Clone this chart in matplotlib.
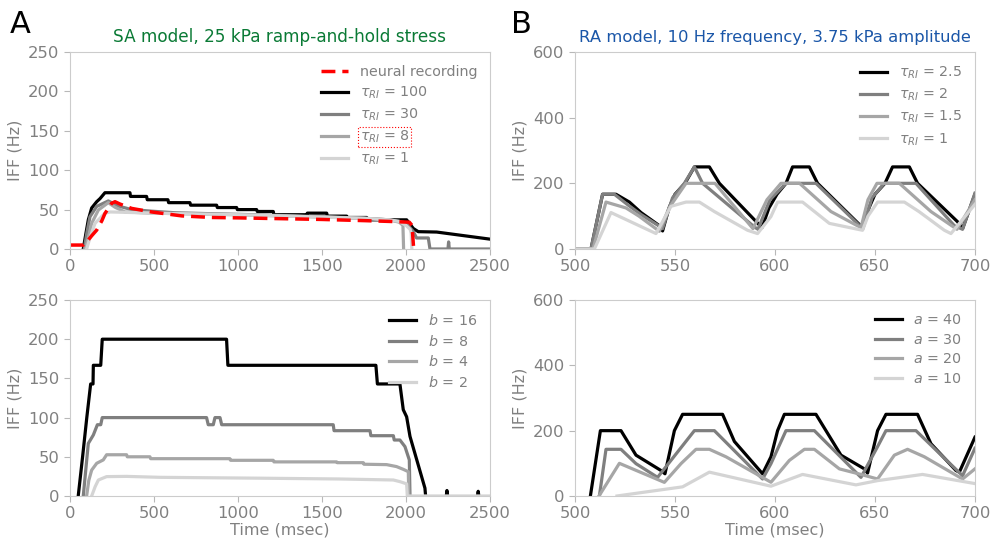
import numpy as np
import matplotlib
matplotlib.use('Agg')
from matplotlib import pyplot as plt

# ---- SA model, ramp-and-hold (top left) ----
t_rec = [0, 79, 99, 130, 159, 190, 208, 248, 268, 298, 367, 486, 665, 843, 1000, 1250, 1500, 1750, 1900, 1960, 2020, 2036, 2046]
v_rec = [5, 5, 9, 17, 24, 36, 45, 58, 60, 57, 51.5, 47, 42, 40, 39.5, 38.5, 37.5, 36, 35, 34.5, 34, 30, 0]

t_tau100 = [79, 95, 109, 129, 159, 179, 208, 357, 360, 456, 460, 583, 587, 714, 718, 873, 877, 992, 996, 1111, 1115,
            1210, 1214, 1409, 1413, 1528, 1532, 1647, 1651, 1766, 1770, 2004, 2044, 2073, 2183, 2500]
v_tau100 = [0, 20, 37, 52, 60, 64, 71.4, 71.4, 66.7, 66.7, 62.5, 62.5, 58.8, 58.8, 55.6, 55.6, 52.6, 52.6, 50, 50, 47.6,
            47.6, 43.5, 43.5, 45.5, 45.5, 41.7, 41.7, 40, 40, 37, 37, 26, 22, 21.5, 12.5]

t_tau30 = [85, 100, 119, 159, 228, 288, 367, 486, 625, 800, 1000, 1250, 1500, 1750, 1900, 1960, 2000, 2044, 2063,
           2133, 2143, 2250, 2254, 2258, 2500]
v_tau30 = [0, 20, 41, 54, 61, 54.5, 50, 48, 46, 45, 44, 42.5, 41, 39, 37, 35, 33, 22, 14, 14, 0, 0, 9, 0, 0]

t_tau8 = [90, 110, 129, 169, 228, 268, 327, 486, 843, 1000, 1250, 1500, 1750, 1900, 1960, 1982, 1986]
v_tau8 = [0, 15, 32.6, 49.5, 58.8, 53, 47, 45.5, 44, 43.5, 42, 40.5, 39, 37, 34, 30, 0]

t_tau1 = [99, 120, 149, 208, 240, 330, 500, 843, 1000, 1250, 1500, 1750, 1900, 1960, 2000, 2025, 2031, 2035]
v_tau1 = [0, 15, 32.6, 45.5, 47, 46.5, 45.5, 44, 43.5, 42, 40.5, 39, 37, 35, 30, 25, 20, 0]

# ---- SA model, varying b (bottom left) ----
t_b16 = [49, 75, 100, 123, 137, 139, 183, 192, 932, 940, 1821, 1830, 1964, 1984, 2004, 2024, 2113, 2117,
         np.nan, 2240, 2244, 2248, np.nan, 2426, 2430, 2434]
v_b16 = [0, 50, 100, 142.9, 142.9, 166.7, 166.7, 200, 200, 166.7, 166.7, 142.9, 142.9, 110, 101, 76, 10, 0,
         np.nan, 0, 7, 0, np.nan, 0, 6, 0]

t_b8 = [79, 109, 139, 163, 183, 192, 813, 823, 853, 863, 893, 903, 1567, 1572, 1786, 1791, 1925, 1930, 1964, 1994,
        2020, 2024]
v_b8 = [0, 67, 77.8, 90.9, 90.9, 100, 100, 90.9, 90.9, 100, 100, 90.9, 90.9, 83.3, 83.3, 76.9, 76.9, 71.4, 71.4,
        63, 46, 0]

t_b4 = [99, 112, 129, 159, 198, 218, 337, 341, 476, 480, 952, 956, 1210, 1214, 1587, 1591, 1746, 1750, 1885, 1944,
        1984, 2014, 2017]
v_b4 = [0, 20, 33, 41.7, 46, 52.6, 52.6, 50, 50, 47.6, 47.6, 45.5, 45.5, 43.5, 43.5, 42.5, 42.5, 40.5, 40, 37.5,
        34, 31, 0]

t_b2 = [129, 150, 169, 218, 337, 536, 1131, 1600, 1925, 1964, 2004, 2008, 2500]
v_b2 = [0, 12, 20.4, 24.7, 25, 23.8, 22.7, 21.7, 20.4, 18.3, 15.5, 0, 0]

# ---- RA model, varying tau_RI (top right) ----
t_ra25 = [500, 508, 513.8, 520.5, 527.2, 533, 542.2, 543.8, 547, 550, 555, 559.7, 567.2, 572.2, 593.5, 597, 601,
          605.5, 608.8, 617.2, 621.3, 643.8, 647, 650, 655, 658.8, 667.2, 671.3, 691.3, 693.8, 700]
v_ra25 = [0, 0, 166.7, 166.7, 142.9, 111, 71, 55, 125, 166.7, 200, 250, 250, 200, 65, 125, 166.7,
          200, 250, 250, 200, 65, 125, 166.7, 200, 250, 250, 200, 83, 62, 166.7]

t_ra2 = [500, 508, 513.8, 519.7, 526.3, 533, 541.3, 543.8, 548.8, 554.7, 559.7, 563.8, 589.7, 591.5, 597.5, 605.5,
         620.5, 642.5, 644, 648.5, 654.7, 670.5, 689.7, 693.8, 700]
v_ra2 = [0, 0, 166.7, 166.7, 135, 105, 73, 62, 156, 200, 250, 200, 67, 60, 150, 200,
         200, 70, 62, 156, 200, 200, 71, 60, 170]

t_ra15 = [500, 509, 515.5, 525.5, 532, 542.2, 547, 555.5, 570, 589, 596, 603, 612.3, 628, 643, 646.5, 651, 662.2,
          678, 691, 700]
v_ra15 = [0, 0, 142.9, 125, 100, 54, 125, 200, 200, 62, 150, 200, 200, 114, 65, 150, 200, 200,
          114, 60, 150]

t_ra1 = [500, 509.7, 518, 540.5, 548, 555.5, 562.2, 569.7, 586.3, 591.3, 598, 601.3, 613.8, 627.2, 643.8, 646.5,
         651.3, 664.7, 672, 684.7, 688, 700]
v_ra1 = [0, 0, 111, 47, 130, 142.9, 142.9, 114, 57, 47, 99, 142.9, 142.9, 78, 57, 100,
         142.9, 142.9, 114, 57, 47, 136]

# ---- RA model, varying a (bottom right) ----
t_a40 = [507.7, 512.7, 523, 530.5, 543, 545, 549.7, 553.8, 573.8, 579.7, 593.8, 598, 601.3, 604.7, 620.5, 633,
         644.7, 646.3, 651.3, 655.5, 671.3, 678, 690.5, 692.2, 700]
v_a40 = [0, 200, 200, 125, 78, 68, 200, 250, 250, 167, 68, 120, 200, 250, 250, 125,
         83, 70, 200, 250, 250, 160, 78, 73, 180]

t_a30 = [512.2, 515.5, 523, 530.5, 541.3, 548, 559.7, 569.7, 593.8, 598, 605.5, 619.7, 643, 651.3, 655.5, 670.5,
         693.8, 700]
v_a30 = [0, 142.9, 142.9, 99, 57, 109, 200, 200, 52, 99, 200, 200, 57, 151, 200, 200, 62, 146]

t_a20 = [512, 522.2, 544.7, 553, 560.5, 567.2, 575.5, 598, 607.2, 614.7, 619.7, 632.2, 643, 651.3, 659.7, 666.3,
         674.7, 693.8, 700]
v_a20 = [0, 100, 41.7, 99, 142.9, 142.9, 120, 42, 109, 142.9, 142.9, 83, 66, 52, 125, 142.9, 120, 52, 83]

t_a10 = [521, 553.8, 567.2, 598, 613.8, 640.5, 651.3, 673.8, 700]
v_a10 = [0, 28, 73, 30, 66, 34, 47, 66, 38]

greys = ['#000000', '#7f7f7f', '#a6a6a6', '#d4d4d4']
lw = 2.3


def style(ax, xlim, ylim, xticks, yticks):
    for s in ax.spines.values():
        s.set_color('#cccccc')
    ax.set_xlim(xlim)
    ax.set_ylim(ylim)
    ax.set_xticks(xticks)
    ax.set_yticks(yticks)
    ax.tick_params(colors='#b8b8b8', labelcolor='#808080', labelsize=11.8, length=4)
    ax.set_ylabel('IFF (Hz)', color='#808080', fontsize=11.5)


def legend(ax):
    leg = ax.legend(loc='upper right', frameon=False, fontsize=10.3, handlelength=1.9,
                    labelspacing=0.4, labelcolor='#808080')
    return leg


fig = plt.figure(figsize=(9.9, 5.42), dpi=100)
ax1 = fig.add_axes([0.0707, 0.5406, 0.4242, 0.3635])
ax2 = fig.add_axes([0.0707, 0.0849, 0.4242, 0.3616])
ax3 = fig.add_axes([0.5808, 0.5406, 0.4040, 0.3635])
ax4 = fig.add_axes([0.5808, 0.0849, 0.4040, 0.3616])

# top left
l100, = ax1.plot(t_tau100, v_tau100, color=greys[0], lw=lw, label=r'$\tau_{RI}$ = 100')
l30, = ax1.plot(t_tau30, v_tau30, color=greys[1], lw=lw, label=r'$\tau_{RI}$ = 30')
l8, = ax1.plot(t_tau8, v_tau8, color=greys[2], lw=lw, label=r'$\tau_{RI}$ = 8')
l1, = ax1.plot(t_tau1, v_tau1, color=greys[3], lw=lw, label=r'$\tau_{RI}$ = 1')
lrec, = ax1.plot(t_rec, v_rec, color='red', lw=2.5, ls=(0, (4, 2)), label='neural recording')
style(ax1, (0, 2500), (0, 250), np.arange(0, 2501, 500), np.arange(0, 251, 50))
leg1 = ax1.legend(handles=[lrec, l100, l30, l8, l1], loc='upper right', frameon=False, fontsize=10.3,
                  handlelength=1.9, labelspacing=0.4, labelcolor='#808080')
leg1.get_texts()[3].set_bbox(dict(boxstyle='square,pad=0.1', fc='none', ec='red', ls=':', lw=0.8))
ax1.set_title('SA model, 25 kPa ramp-and-hold stress', color='#0a7a35', fontsize=12.2, pad=7)

# bottom left
ax2.plot(t_b16, v_b16, color=greys[0], lw=lw, label=r'$b$ = 16')
ax2.plot(t_b8, v_b8, color=greys[1], lw=lw, label=r'$b$ = 8')
ax2.plot(t_b4, v_b4, color=greys[2], lw=lw, label=r'$b$ = 4')
ax2.plot(t_b2, v_b2, color=greys[3], lw=lw, label=r'$b$ = 2')
style(ax2, (0, 2500), (0, 250), np.arange(0, 2501, 500), np.arange(0, 251, 50))
legend(ax2)
ax2.set_xlabel('Time (msec)', color='#808080', fontsize=11.5, labelpad=1)

# top right
ax3.plot(t_ra25, v_ra25, color=greys[0], lw=lw, label=r'$\tau_{RI}$ = 2.5')
ax3.plot(t_ra2, v_ra2, color=greys[1], lw=lw, label=r'$\tau_{RI}$ = 2')
ax3.plot(t_ra15, v_ra15, color=greys[2], lw=lw, label=r'$\tau_{RI}$ = 1.5')
ax3.plot(t_ra1, v_ra1, color=greys[3], lw=lw, label=r'$\tau_{RI}$ = 1')
style(ax3, (500, 700), (0, 600), np.arange(500, 701, 50), np.arange(0, 601, 200))
legend(ax3)
ax3.set_title('RA model, 10 Hz frequency, 3.75 kPa amplitude', color='#1a56a8', fontsize=11.8, pad=7)

# bottom right
ax4.plot(t_a40, v_a40, color=greys[0], lw=lw, label=r'$a$ = 40')
ax4.plot(t_a30, v_a30, color=greys[1], lw=lw, label=r'$a$ = 30')
ax4.plot(t_a20, v_a20, color=greys[2], lw=lw, label=r'$a$ = 20')
ax4.plot(t_a10, v_a10, color=greys[3], lw=lw, label=r'$a$ = 10')
style(ax4, (500, 700), (0, 600), np.arange(500, 701, 50), np.arange(0, 601, 200))
legend(ax4)
ax4.set_xlabel('Time (msec)', color='#808080', fontsize=11.5, labelpad=1)

fig.text(0.010, 0.94, 'A', fontsize=22)
fig.text(0.516, 0.94, 'B', fontsize=22)

plt.savefig('out.png', dpi=100)
